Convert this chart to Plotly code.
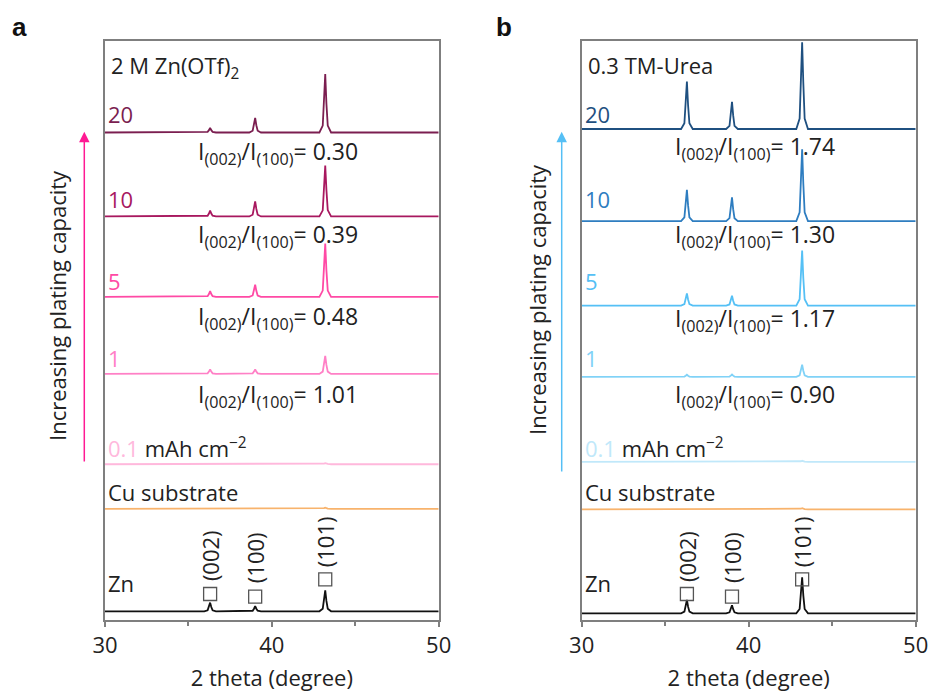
import plotly.graph_objects as go

# ---------------- data ----------------
X_GRID = [30.0,
          35.95, 36.15, 36.23, 36.3, 36.37, 36.45, 36.65,
          38.65, 38.85, 38.93, 39.0, 39.07, 39.15, 39.35,
          42.85, 43.05, 43.13, 43.2, 43.27, 43.35, 43.55,
          50.0]

CAPACITY_LABELS = ["20", "10", "5", "1", "0.1"]

A_20 = [0, 0, 0.1, 0.4, 0.8, 0.4, 0.1, 0, 0, 0.3, 1.25, 2.5, 1.25, 0.3, 0, 0, 1.2, 5.0, 10.1, 5.0, 1.2, 0, 0]
A_10 = [0, 0, 0.12, 0.5, 1.0, 0.5, 0.12, 0, 0, 0.3, 1.3, 2.6, 1.3, 0.3, 0, 0, 1.05, 4.4, 8.8, 4.6, 1.1, 0, 0]
A_5 = [0, 0, 0.12, 0.5, 1.0, 0.5, 0.12, 0, 0, 0.25, 1.05, 2.1, 1.05, 0.25, 0, 0, 1.1, 4.6, 9.2, 4.6, 1.1, 0, 0]
A_1 = [0, 0, 0.1, 0.4, 0.8, 0.4, 0.1, 0, 0, 0.1, 0.4, 0.8, 0.4, 0.1, 0, 0, 0.4, 1.55, 3.1, 1.55, 0.4, 0, 0]
A_01 = [0, 0, 0, 0, 0, 0, 0, 0, 0, 0, 0, 0, 0, 0, 0, 0, 0.05, 0.12, 0.2, 0.12, 0.05, 0, 0]
A_CU = [0, 0, 0, 0, 0, 0, 0, 0, 0, 0, 0, 0, 0, 0, 0, 0, 0.05, 0.12, 0.2, 0.12, 0.05, 0, 0]
A_ZN = [0, 0, 0.18, 0.75, 1.5, 0.75, 0.18, 0, 0, 0.1, 0.45, 0.9, 0.45, 0.1, 0, 0, 0.45, 1.8, 3.6, 1.8, 0.45, 0, 0]

B_20 = [0, 0, 1.0, 4.1, 8.2, 4.1, 1.0, 0, 0, 0.55, 2.35, 4.7, 2.35, 0.55, 0, 0, 1.8, 7.5, 15.0, 8.0, 1.8, 0, 0]
B_10 = [0, 0, 0.65, 2.7, 5.4, 2.7, 0.65, 0, 0, 0.5, 2.05, 4.1, 2.05, 0.5, 0, 0, 1.5, 6.2, 12.4, 6.5, 1.5, 0, 0]
B_5 = [0, 0, 0.25, 1.05, 2.1, 1.05, 0.25, 0, 0, 0.2, 0.85, 1.7, 0.85, 0.2, 0, 0, 1.1, 4.75, 9.5, 4.75, 1.1, 0, 0]
B_1 = [0, 0, 0.05, 0.18, 0.35, 0.18, 0.05, 0, 0, 0.05, 0.2, 0.4, 0.2, 0.05, 0, 0, 0.25, 1.05, 2.1, 1.05, 0.25, 0, 0]
B_01 = [0, 0, 0, 0, 0, 0, 0, 0, 0, 0, 0, 0, 0, 0, 0, 0, 0.05, 0.12, 0.2, 0.12, 0.05, 0, 0]
B_CU = [0, 0, 0, 0, 0, 0, 0, 0, 0, 0, 0, 0, 0, 0, 0, 0, 0.05, 0.12, 0.2, 0.12, 0.05, 0, 0]
B_ZN = [0, 0, 0.28, 1.15, 2.3, 1.15, 0.28, 0, 0, 0.17, 0.7, 1.4, 0.7, 0.17, 0, 0, 0.75, 3.1, 6.2, 3.1, 0.75, 0, 0]

A_OFFSETS = [84.2, 69.7, 55.8, 42.5, 26.9, 19.2, 1.5]
B_OFFSETS = [84.8, 68.9, 54.3, 42.0, 27.3, 19.1, 1.16]

A_RATIOS = ["0.30", "0.39", "0.48", "1.01"]
B_RATIOS = ["1.74", "1.30", "1.17", "0.90"]

PEAK_POS = [36.3, 39.0, 43.2]
PEAK_NAMES = ["(002)", "(100)", "(101)"]

# ---------------- styles ----------------
W, H = 933, 695
FONT = "Open Sans"
A_COLORS = ["#7B1E50", "#A8185F", "#FF4AA5", "#FF80C6", "#FFB8DC"]
B_COLORS = ["#1F5080", "#2E7DC0", "#55C0F5", "#80D2F7", "#C0E8FA"]
CU_COLOR = "#F8B36C"
ZN_COLOR = "#111111"
BOX = "#7f7f7f"
TXT = "#222222"


def PX(x):
    return x / W


def PY(y):
    return 1 - y / H


PLOT_TOP, PLOT_BOT = 41, 620
YUNIT = (PLOT_BOT - PLOT_TOP) / 100.0


def DY(ypx):
    return (PLOT_BOT - ypx) / YUNIT


fig = go.Figure()

panels = [
    dict(xa="x", ya="y", series=[A_20, A_10, A_5, A_1, A_01, A_CU, A_ZN], offs=A_OFFSETS,
         colors=A_COLORS),
    dict(xa="x2", ya="y2", series=[B_20, B_10, B_5, B_1, B_01, B_CU, B_ZN], offs=B_OFFSETS,
         colors=B_COLORS),
]

for p in panels:
    cols = p["colors"] + [CU_COLOR, ZN_COLOR]
    for ys, off, c in zip(p["series"], p["offs"], cols):
        fig.add_trace(go.Scatter(x=X_GRID, y=[v + off for v in ys], mode="lines",
                                 line=dict(color=c, width=1.8), xaxis=p["xa"], yaxis=p["ya"],
                                 showlegend=False, hoverinfo="skip"))
    # square markers
    fig.add_trace(go.Scatter(x=PEAK_POS, y=[DY(594), DY(596.7), DY(579.3)], mode="markers",
                             marker=dict(symbol="square-open", size=13, color="#555555",
                                         line=dict(width=1.3, color="#555555")),
                             xaxis=p["xa"], yaxis=p["ya"], showlegend=False, hoverinfo="skip"))

axis_common = dict(range=[30, 50], showline=True, linecolor=BOX, linewidth=1.5, mirror=True,
                   ticks="outside", ticklen=5, tickwidth=1.5, tickcolor=BOX, automargin=False,
                   tickvals=[30, 40, 50], showgrid=False, zeroline=False,
                   minor=dict(tickvals=[35, 45], ticklen=4, tickwidth=1.5, tickcolor=BOX, ticks="outside"),
                   tickfont=dict(family=FONT, size=22, color=TXT),
                   title=dict(text="2 theta (degree)", font=dict(family=FONT, size=22, color=TXT),
                              standoff=12))
yaxis_common = dict(range=[0, 100], showline=True, linecolor=BOX, linewidth=1.5, mirror=True,
                    automargin=False,
                    showticklabels=False, ticks="", showgrid=False, zeroline=False, fixedrange=True)

fig.update_layout(
    width=W, height=H, margin=dict(l=0, r=0, t=0, b=0, autoexpand=False),
    paper_bgcolor="white", plot_bgcolor="white",
    xaxis=dict(domain=[PX(105), PX(438.7)], anchor="y", **axis_common),
    yaxis=dict(domain=[PY(PLOT_BOT), PY(PLOT_TOP)], anchor="x", **yaxis_common),
    xaxis2=dict(domain=[PX(581.7), PX(915.7)], anchor="y2", **axis_common),
    yaxis2=dict(domain=[PY(PLOT_BOT), PY(PLOT_TOP)], anchor="x2", **yaxis_common),
)

ann = []


def text(x, y, s, size=22, color=TXT, xanchor="left", yanchor="middle", angle=0,
         family=FONT):
    ann.append(dict(x=PX(x), y=PY(y), xref="paper", yref="paper", text=s, showarrow=False,
                    xanchor=xanchor, yanchor=yanchor, textangle=angle,
                    font=dict(family=family, size=size, color=color)))


# panel letters
text(10, 27, "<b>a</b>", size=26, family="Liberation Sans", color="#111")
text(494, 27, "<b>b</b>", size=26, family="Liberation Sans", color="#111")

# titles
text(109, 67, "2 M Zn(OTf)<sub>2</sub>")
text(586, 65, "0.3 TM-Urea")

label_y = [114, 199, 281, 358]
ratio_y_a = [152, 235, 317, 395]
ratio_y_b = [147, 235, 319, 395]
for i in range(4):
    text(106, label_y[i], CAPACITY_LABELS[i], color=A_COLORS[i])
    text(583, label_y[i], CAPACITY_LABELS[i], color=B_COLORS[i])
    text(278, ratio_y_a[i], "I<sub>(002)</sub>/I<sub>(100)</sub>= " + A_RATIOS[i], xanchor="center",
         size=23)
    text(755, ratio_y_b[i], "I<sub>(002)</sub>/I<sub>(100)</sub>= " + B_RATIOS[i], xanchor="center",
         size=23)

text(106, 448, "<span style='color:%s'>0.1</span> mAh cm<sup>\u22122</sup>" % A_COLORS[4])
text(583, 448, "<span style='color:%s'>0.1</span> mAh cm<sup>\u22122</sup>" % B_COLORS[4])
text(106, 492, "Cu substrate")
text(583, 492, "Cu substrate")
text(106, 583, "Zn")
text(583, 583, "Zn")

# rotated hkl labels
for xa, ya in [("x", "y"), ("x2", "y2")]:
    for px_, ypx, nm in zip(PEAK_POS, [556, 558, 542], PEAK_NAMES):
        ann.append(dict(x=px_, y=DY(ypx), xref=xa, yref=ya, text=nm, showarrow=False,
                        textangle=-90, font=dict(family=FONT, size=22, color=TXT)))

# y titles
text(57, 306, "Increasing plating capacity", xanchor="center", angle=-90)
text(537, 300, "Increasing plating capacity", xanchor="center", angle=-90)

# arrows
for xpx, y0, y1, col in [(84.3, 463, 131.7, "#FF1A93"), (561.7, 473, 131.7, "#55BFF5")]:
    ann.append(dict(x=PX(xpx), y=PY(y1), xref="paper", yref="paper", ax=0, ay=y0 - y1,
                    axref="pixel", ayref="pixel", showarrow=True, arrowhead=2, arrowsize=1.4,
                    arrowwidth=1.5, arrowcolor=col, text=""))

fig.update_layout(annotations=ann)
fig.write_html("out.html")
